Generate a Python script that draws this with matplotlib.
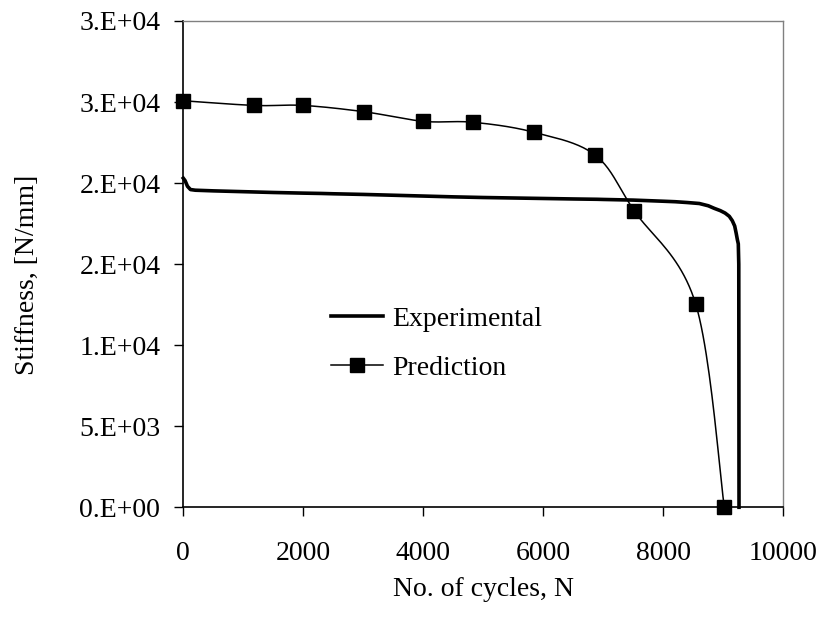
import numpy as np
import matplotlib
matplotlib.use('Agg')
import matplotlib.pyplot as plt
from matplotlib.ticker import FixedLocator, FixedFormatter

plt.rcParams['font.family'] = 'Liberation Serif'
plt.rcParams['font.size'] = 20

# Measured stiffness degradation
exp_cycles = [0, 30, 70, 120, 200, 500, 1000, 1500, 2000, 2300, 2500, 3000,
              3500, 4000, 4500, 5000, 5500, 6000, 6500, 6900, 7000, 7500,
              8000, 8200, 8400, 8600, 8750, 8850, 8950, 9030, 9100, 9150,
              9190, 9215, 9235, 9250, 9258, 9260, 9262]
exp_stiffness = [20300, 20150, 19800, 19600, 19560, 19520, 19470, 19420, 19380,
                 19360, 19340, 19300, 19250, 19200, 19150, 19110, 19080, 19050,
                 19020, 19000, 18990, 18950, 18880, 18850, 18800, 18740, 18600,
                 18440, 18300, 18150, 17950, 17680, 17350, 16900, 16500, 16250,
                 15000, 8000, 0]

# Model prediction
pred_cycles = [0, 1183, 2000, 3017, 4000, 4833, 5850, 6867, 7517, 8540, 9017]
pred_stiffness = [25080, 24790, 24790, 24400, 23810, 23750, 23130, 21720,
                  18280, 12540, 0]

x_ticks = [0, 2000, 4000, 6000, 8000, 10000]
y_ticks = [0, 5000, 10000, 15000, 20000, 25000, 30000]
y_tick_labels = ['0.E+00', '5.E+03', '1.E+04', '2.E+04', '2.E+04', '3.E+04', '3.E+04']


def smooth_curve(xs, ys, n=24):
    # Bezier smoothing through the points (spreadsheet-style smoothed line)
    p = np.column_stack([xs, ys]).astype(float)
    pts = np.vstack([p[0], p, p[-1]])
    out = []
    t = np.linspace(0, 1, n)[:, None]
    for i in range(1, len(pts) - 2):
        p0, p1, p2, p3 = pts[i - 1], pts[i], pts[i + 1], pts[i + 2]
        c1 = p1 + (p2 - p0) / 6.0
        c2 = p2 - (p3 - p1) / 6.0
        seg = ((1 - t) ** 3) * p1 + 3 * ((1 - t) ** 2) * t * c1 \
            + 3 * (1 - t) * t ** 2 * c2 + t ** 3 * p2
        out.append(seg if i == 1 else seg[1:])
    curve = np.vstack(out)
    marks = [0] + [k * (n - 1) for k in range(1, len(xs))]
    return curve[:, 0], curve[:, 1], marks


fig = plt.figure(figsize=(8.26, 6.19), dpi=100)
ax = fig.add_axes([0.2219, 0.1805, 0.7264, 0.7856])

ax.plot(exp_cycles, exp_stiffness, color='black', lw=2.6, label='Experimental',
        zorder=3, clip_on=False, solid_joinstyle='round')

sx, sy, marks = smooth_curve(pred_cycles, pred_stiffness)
ax.plot(sx, sy, color='black', lw=1.1, marker='s', markersize=9.4,
        markevery=marks, label='Prediction', zorder=4, clip_on=False)

ax.set_xlim(0, 10000)
ax.set_ylim(0, 30000)
ax.xaxis.set_major_locator(FixedLocator(x_ticks))
ax.yaxis.set_major_locator(FixedLocator(y_ticks))
ax.yaxis.set_major_formatter(FixedFormatter(y_tick_labels))

for side in ['top', 'right']:
    ax.spines[side].set_color('#808080')
    ax.spines[side].set_linewidth(1.0)
for side in ['left', 'bottom']:
    ax.spines[side].set_color('black')
    ax.spines[side].set_linewidth(1.2)

ax.tick_params(axis='x', direction='out', length=6.2, width=1, pad=18, labelsize=20)
ax.tick_params(axis='y', direction='out', length=6.5, width=1, pad=10, labelsize=20)

ax.set_xlabel('No. of cycles, N', labelpad=8)
ax.set_ylabel('Stiffness, [N/mm]')
ax.yaxis.set_label_coords(-0.239, 0.478)

ax.legend(loc='center left', bbox_to_anchor=(0.2457, 0.336), frameon=False,
          borderpad=0, borderaxespad=0, handlelength=1.9, handletextpad=0.3,
          labelspacing=0.85, fontsize=20)

fig.savefig('out.png', dpi=100)
